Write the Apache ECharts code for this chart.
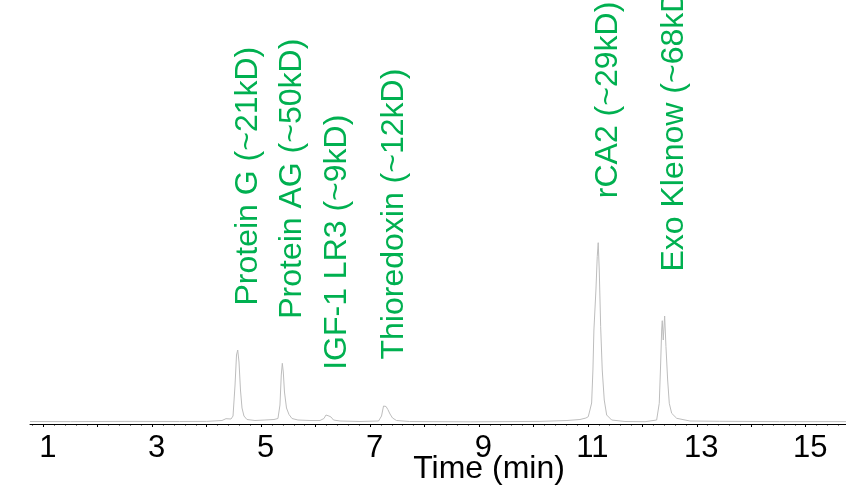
<!DOCTYPE html>
<html>
<head>
<meta charset="utf-8">
<script src="https://cdn.jsdelivr.net/npm/echarts@6/dist/echarts.min.js"></script>
<style>html,body{margin:0;padding:0;background:#fff;}#c{width:846px;height:498px;}</style>
</head>
<body>
<div id="c"></div>
<script>
// Chromatogram trace (time in min, signal in mAU)
const timeMin = [0.756,1.5,2.5,3.5,4.0,4.281,4.355,4.447,4.484,4.521,4.548,4.570,4.594,4.621,4.649,4.685,4.740,4.887,5.07,5.236,5.309,5.346,5.370,5.389,5.407,5.429,5.466,5.512,5.567,5.677,5.897,6.081,6.154,6.191,6.215,6.246,6.283,6.329,6.449,6.815,7.156,7.211,7.248,7.266,7.294,7.327,7.367,7.413,7.486,7.725,8.84,10.12,10.616,10.855,10.965,11.007,11.038,11.069,11.093,11.111,11.148,11.172,11.190,11.209,11.235,11.264,11.301,11.345,11.437,11.681,12.05,12.263,12.311,12.337,12.355,12.366,12.384,12.410,12.434,12.465,12.495,12.539,12.631,12.875,13.42,14.52,15.74];
const signal = [1.25,1.2,1.3,1.25,1.3,1.75,2.65,2.5,4,19.5,34.5,37,31,17,8,4,2.25,1.75,2,2.25,2.75,9.5,24.5,30.35,26,16,8,4.75,2.75,2,1.75,1.75,2.75,4.5,4.85,4,3.5,2,1.5,1.25,1.5,4,9,10,8.75,7.25,5,3,1.75,1.25,1.1,1.3,1.75,2.25,3,3.65,7,10.5,27,47,67,83.65,90.65,77,48.65,27,12,4.5,2,1.25,1.15,2,10.35,30.5,47,51.65,42,54,38.65,22,10.35,5.35,2.85,1.5,1.35,1.2,1.2];

// Peak annotations
const peakNames = ['Protein G (~21kD)','Protein AG (~50kD)','IGF-1 LR3 (~9kD)','Thioredoxin (~12kD)','rCA2 (~29kD)','Exo Klenow (~68kD)'];
const peakTimes = [4.570,5.389,6.215,7.266,11.190,12.410];
const peakHeights = [37,30.35,4.85,10,90.65,54];

// Axis ticks
const xMin = 0.756, xMax = 15.74;
const tickLabels = [1,3,5,7,9,11,13,15];
const majorTicks = [1,2,3,4,5,6,7,8,9,10,11,12,13,14,15];
const minorTicks = [];
for (let i = 4; i <= 78; i++) minorTicks.push(+(i * 0.2).toFixed(1));

const chart = echarts.init(document.getElementById('c'));
const font = 'Liberation Sans, Arial, sans-serif';
chart.setOption({
  animation: false,
  grid: { left: 30, right: 0, top: 0, bottom: 74, outerBoundsMode: 'none', containLabel: false },
  xAxis: [{
    type: 'value', min: xMin, max: xMax,
    name: 'Time (min)', nameLocation: 'middle', nameGap: 29, nameMoveOverlap: false,
    nameTextStyle: { color: '#000', fontSize: 32, fontFamily: font, padding: [0, 0, 0, 102] },
    axisLine: { show: true, lineStyle: { color: '#000', width: 1 } },
    axisTick: { show: true, length: 3, lineStyle: { color: '#000' }, customValues: majorTicks },
    axisLabel: { show: true, color: '#000', fontSize: 31, fontFamily: font, margin: 9, padding: [0, 0, 0, 9], customValues: tickLabels },
    splitLine: { show: false }
  }, {
    type: 'value', min: xMin, max: xMax, position: 'bottom',
    axisLine: { show: false },
    axisTick: { show: true, length: 1.5, lineStyle: { color: '#000' }, customValues: minorTicks },
    axisLabel: { show: false },
    splitLine: { show: false }
  }],
  yAxis: { type: 'value', min: 0, max: 212, show: false },
  series: [{
    type: 'line', xAxisIndex: 0,
    data: timeMin.map((t, i) => [t, signal[i]]),
    showSymbol: false, symbol: 'none',
    lineStyle: { color: '#bdbdbd', width: 1 },
    z: 2
  }, {
    type: 'scatter', xAxisIndex: 0,
    data: peakTimes.map((t, i) => ({ value: [t, peakHeights[i]], name: peakNames[i] })),
    symbolSize: 1, itemStyle: { color: 'rgba(0,0,0,0)' },
    labelLayout: { hideOverlap: false },
    label: {
      show: true, position: 'top', distance: 44, rotate: 90,
      align: 'left', verticalAlign: 'top', lineHeight: 20,
      formatter: p => p.name, opacity: 1,
      color: '#00b050', fontSize: 32, fontFamily: font
    },
    emphasis: { disabled: true },
    z: 3
  }]
});
</script>
</body>
</html>
